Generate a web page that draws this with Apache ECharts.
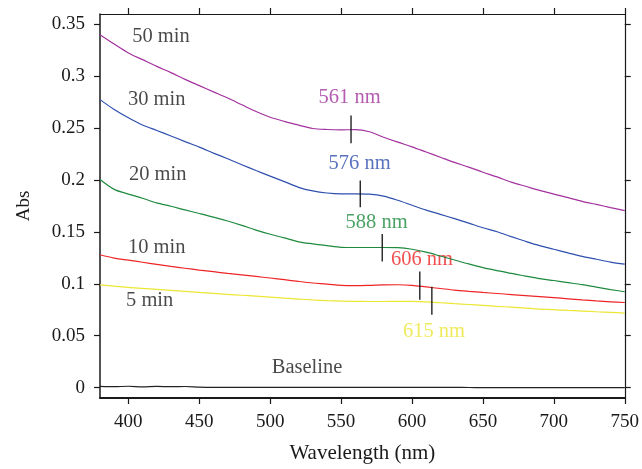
<!DOCTYPE html>
<html><head><meta charset="utf-8">
<script src="https://cdn.jsdelivr.net/npm/echarts@6/dist/echarts.min.js"></script>
<style>html,body{margin:0;padding:0;background:#fff}#c{width:642px;height:469px}</style>
</head><body><div id="c"></div>
<script>
const wavelengths = [380,390,400,410,420,430,440,450,460,470,480,490,500,510,520,530,540,550,560,570,580,590,600,610,620,630,640,650,660,670,680,690,700,710,720,730,740,750];
const abs50 = [.340,.331,.3225,.316,.3095,.3035,.297,.291,.285,.279,.2725,.266,.2605,.2565,.253,.2497,.2487,.2484,.2485,.2465,.2413,.2365,.232,.227,.222,.217,.2125,.2075,.203,.198,.194,.190,.1865,.183,.1795,.1765,.1735,.1706];
const abs30 = [.2775,.268,.260,.253,.2478,.2425,.237,.2317,.226,.2205,.2148,.2092,.2038,.1985,.193,.1895,.1875,.1867,.1867,.1864,.1845,.1805,.1757,.171,.167,.1628,.1585,.154,.1502,.1455,.141,.1368,.1333,.1298,.1265,.1237,.121,.119];
const abs20 = [.2005,.191,.1865,.1825,.178,.1748,.1712,.1678,.1643,.1605,.1563,.1518,.1478,.1443,.1405,.1385,.1368,.1352,.1350,.1350,.1350,.1348,.1333,.1305,.1268,.123,.1192,.1157,.1128,.110,.1075,.105,.1032,.1012,.0992,.0968,.0945,.0924];
const abs10 = [.128,.1248,.1228,.1208,.1188,.1168,.115,.1133,.1117,.1101,.1086,.1071,.1056,.104,.1023,.1008,.0998,.0985,.0982,.0985,.099,.0991,.0985,.097,.0955,.094,.0928,.0917,.0907,.0897,.0887,.0877,.0867,.0856,.0845,.0835,.0827,.082];
const abs5 = [.099,.0978,.0965,.0956,.0947,.0937,.0927,.0917,.0908,.0899,.089,.0881,.0872,.0862,.0853,.0845,.0838,.0833,.0831,.083,.083,.0831,.0831,.0826,.0818,.0809,.0801,.0792,.0783,.0775,.0766,.0757,.0751,.0744,.0738,.0731,.0725,.0718];
const absBase = [.0012,.0009,.0013,.0008,.0012,.0009,.0011,.0005,.0003,.0003,.0003,.0003,.0003,.0003,.0003,.0003,.0003,.0003,.0003,.0003,.0003,.0003,.0003,.0002,.0002,.0002,.0001,0,0,0,0,0,0,0,0,0,0,0];

const curveNames = ['50 min','30 min','20 min','10 min','5 min','Baseline'];
const curveLabelX = [423,420,420.7,420,415,526];
const curveLabelY = [0.3378,0.2777,0.2053,0.1346,0.0837,0.0193];

const peakNames = ['561 nm','576 nm','588 nm','606 nm','615 nm'];
const peakX = [557,563.5,579,605.5,614];
const peakTop = [0.2622,0.1995,0.148,0.112,0.0972];
const peakBottom = [0.2355,0.1737,0.1216,0.0847,0.0702];
const peakLabelX = [556,563,575,607,615.5];
const peakLabelY = [0.2796,0.216,0.1593,0.123,0.0538];

const xTicks = [400,450,500,550,600,650,700,750];
const yTicks = [0,0.05,0.1,0.15,0.2,0.25,0.3,0.35];

const colors = ['#a3329e','#2f4fae','#1e8a3e','#ee2426','#ece634','#222222'];
const allAbs = [abs50,abs30,abs20,abs10,abs5,absBase];
const FONT = 'Liberation Serif';
const TXT = '#1a1a1a';

const series = [];
allAbs.forEach((arr,i)=>{
  series.push({type:'line',showSymbol:false,smooth:0.3,silent:true,
    lineStyle:{color:colors[i],width:1.2},
    data:wavelengths.map((w,j)=>[w,arr[j]])});
});
peakX.forEach((x,i)=>{
  series.push({type:'line',showSymbol:false,silent:true,
    lineStyle:{color:'#111',width:1.3},
    data:[[x,peakTop[i]],[x,peakBottom[i]]]});
});
series.push({type:'scatter',symbolSize:0,silent:true,
  label:{show:true,position:'inside',fontFamily:FONT,fontSize:20.5,
    formatter:p=>p.data.name, color:TXT},
  data:curveNames.map((n,i)=>({name:n,value:[curveLabelX[i],curveLabelY[i]]}))});
series.push({type:'scatter',symbolSize:0,silent:true,
  label:{show:true,position:'inside',fontFamily:FONT,fontSize:20.5,
    formatter:p=>p.data.name},
  data:peakNames.map((n,i)=>({name:n,value:[peakLabelX[i],peakLabelY[i]],
    label:{color:colors[i]}}))});

const axisLineStyle = w => ({show:true,onZero:false,lineStyle:{color:TXT,width:w}});
const option = {
  animation:false,
  grid:{left:100,right:13,top:14,bottom:71},
  xAxis:[
    {type:'value',min:380,max:750,position:'bottom',
     axisLine:axisLineStyle(2),
     axisTick:{show:true,inside:false,length:6,customValues:xTicks,lineStyle:{color:TXT,width:1.2}},
     axisLabel:{customValues:xTicks,fontFamily:FONT,fontSize:19,color:TXT,margin:15},
     splitLine:{show:false},
     name:'Wavelength (nm)',nameLocation:'middle',nameGap:45,
     nameTextStyle:{fontFamily:FONT,fontSize:21,color:TXT}},
    {type:'value',min:380,max:750,position:'top',
     axisLine:axisLineStyle(1.2),
     axisTick:{show:true,inside:false,length:6,customValues:xTicks,lineStyle:{color:TXT,width:1.2}},
     axisLabel:{show:false},splitLine:{show:false}}
  ],
  yAxis:[
    {type:'value',min:-0.01,max:0.36,position:'left',
     axisLine:axisLineStyle(1.5),
     axisTick:{show:true,inside:false,length:6,customValues:yTicks,lineStyle:{color:TXT,width:1.2}},
     axisLabel:{customValues:yTicks,fontFamily:FONT,fontSize:19,color:TXT,margin:15,
       formatter:v=>String(+v.toFixed(2))},
     splitLine:{show:false},
     name:'Abs',nameLocation:'middle',nameGap:66,
     nameTextStyle:{fontFamily:FONT,fontSize:19,color:TXT}},
    {type:'value',min:-0.01,max:0.36,position:'right',
     axisLine:axisLineStyle(1.2),
     axisTick:{show:true,inside:false,length:6,customValues:yTicks,lineStyle:{color:TXT,width:1.2}},
     axisLabel:{show:false},splitLine:{show:false}}
  ],
  series:series
};
const chart = echarts.init(document.getElementById('c'),null,{renderer:'canvas'});
chart.setOption(option);
</script></body></html>
